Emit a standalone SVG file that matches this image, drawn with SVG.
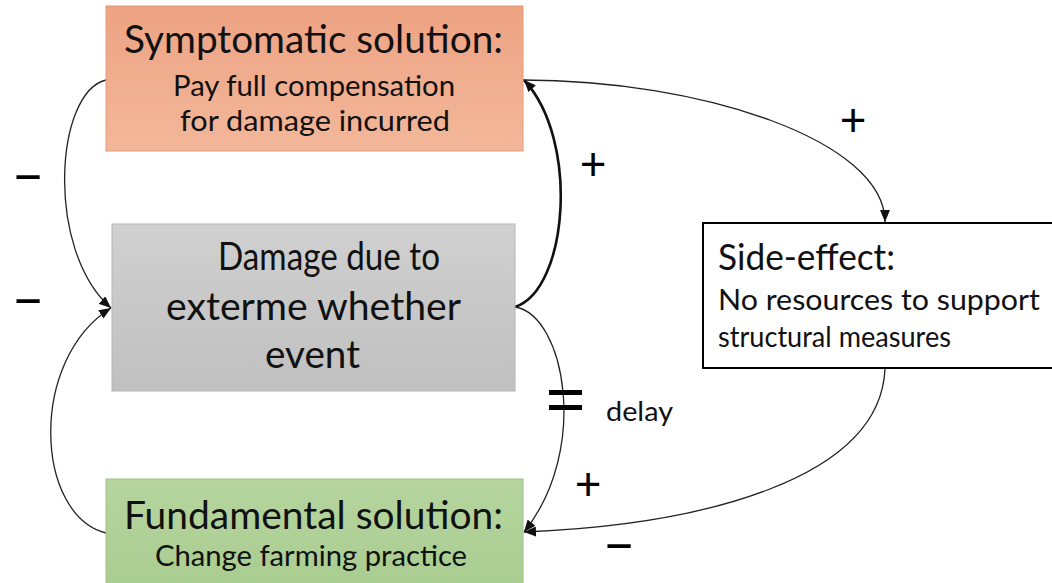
<svg xmlns="http://www.w3.org/2000/svg" width="1052" height="583" viewBox="0 0 1052 583">
  <style>
    .t { font-family: Lato, "Open Sans", sans-serif; fill: #111; }
    .big { font-size: 39px; }
    .sub { font-size: 28px; }
    .sign { font-family: Lato, "Open Sans", sans-serif; fill: #000; font-size: 46px; text-anchor: middle; }
    .dash { font-size: 58px; }
    .link { fill: none; stroke: #222; stroke-width: 1.3; }
    .strong { stroke: #111; stroke-width: 2.6; }
  </style>
  <defs>
    <linearGradient id="gSym" x1="0" y1="0" x2="0" y2="1">
      <stop offset="0" stop-color="#EDA383"/>
      <stop offset="1" stop-color="#F3B79A"/>
    </linearGradient>
    <linearGradient id="gDmg" x1="0" y1="0" x2="0" y2="1">
      <stop offset="0" stop-color="#D0D0D0"/>
      <stop offset="1" stop-color="#C0C0C0"/>
    </linearGradient>
    <linearGradient id="gFun" x1="0" y1="0" x2="0" y2="1">
      <stop offset="0" stop-color="#B6D59F"/>
      <stop offset="1" stop-color="#A9CC90"/>
    </linearGradient>
    <marker id="arrow" viewBox="0 0 12 10" refX="12" refY="5" markerWidth="12" markerHeight="10" markerUnits="userSpaceOnUse" orient="auto">
      <path d="M0,0 L12,5 L0,10 z" fill="#111"/>
    </marker>
  </defs>

  <rect width="1052" height="583" fill="#fff"/>

  <!-- feedback links -->
  <g id="connectors">
    <path class="link" d="M106,80 C55,92 45,250 111,308" marker-end="url(#arrow)"/>
    <path class="link" d="M106,533 C35,515 28,360 111,308" marker-end="url(#arrow)"/>
    <path class="link strong" d="M515,307 C568,290 580,140 524,80" marker-end="url(#arrow)"/>
    <path class="link" d="M523,80 C700,80 885,140 885,222" marker-end="url(#arrow)"/>
    <path class="link" d="M515,307 C565,315 590,450 524,532" marker-end="url(#arrow)"/>
    <path class="link" d="M885,369 C880,480 700,525 524,532" marker-end="url(#arrow)"/>
    <!-- delay marks -->
    <line x1="549" y1="392.5" x2="582" y2="392.5" stroke="#000" stroke-width="5"/>
    <line x1="549" y1="407.5" x2="582" y2="407.5" stroke="#000" stroke-width="5"/>
    <text class="t" x="606" y="421" font-size="27" textLength="67" lengthAdjust="spacingAndGlyphs">delay</text>
    <!-- polarity signs -->
    <text class="sign" x="853" y="136">+</text>
    <text class="sign" x="593" y="180">+</text>
    <text class="sign" x="588" y="500">+</text>
    <text class="sign dash" x="28" y="194">–</text>
    <text class="sign dash" x="28" y="318">–</text>
    <text class="sign dash" x="619" y="563">–</text>
  </g>

  <g id="symptomatic">
    <rect x="106" y="6" width="417" height="145" fill="url(#gSym)" stroke="#E39B7B" stroke-width="1"/>
    <text class="t big" x="124" y="53" textLength="379" lengthAdjust="spacingAndGlyphs">Symptomatic solution:</text>
    <text class="t sub" x="173" y="96" textLength="282" lengthAdjust="spacingAndGlyphs">Pay full compensation</text>
    <text class="t sub" x="180" y="131" textLength="270" lengthAdjust="spacingAndGlyphs">for damage incurred</text>
  </g>

  <g id="damage">
    <rect x="112" y="224" width="403" height="167" fill="url(#gDmg)" stroke="#B5B5B5" stroke-width="1"/>
    <text class="t big" x="218" y="270" textLength="222" lengthAdjust="spacingAndGlyphs">Damage due to</text>
    <text class="t big" x="166" y="320" textLength="295" lengthAdjust="spacingAndGlyphs">exterme whether</text>
    <text class="t big" x="265" y="368" textLength="95" lengthAdjust="spacingAndGlyphs">event</text>
  </g>

  <g id="fundamental">
    <rect x="106" y="479" width="417" height="110" fill="url(#gFun)" stroke="#9DC184" stroke-width="1"/>
    <text class="t big" x="124" y="529" textLength="379" lengthAdjust="spacingAndGlyphs">Fundamental solution:</text>
    <text class="t sub" x="155" y="566" textLength="312" lengthAdjust="spacingAndGlyphs">Change farming practice</text>
  </g>

  <g id="side-effect">
    <rect x="703" y="223" width="355" height="145" fill="#fff" stroke="#000" stroke-width="2"/>
    <text class="t" x="718" y="270" font-size="37" textLength="177" lengthAdjust="spacingAndGlyphs">Side-effect:</text>
    <text class="t" x="718" y="310" font-size="28" textLength="322" lengthAdjust="spacingAndGlyphs">No resources to support</text>
    <text class="t" x="718" y="347" font-size="28" textLength="233" lengthAdjust="spacingAndGlyphs">structural measures</text>
  </g>
</svg>
